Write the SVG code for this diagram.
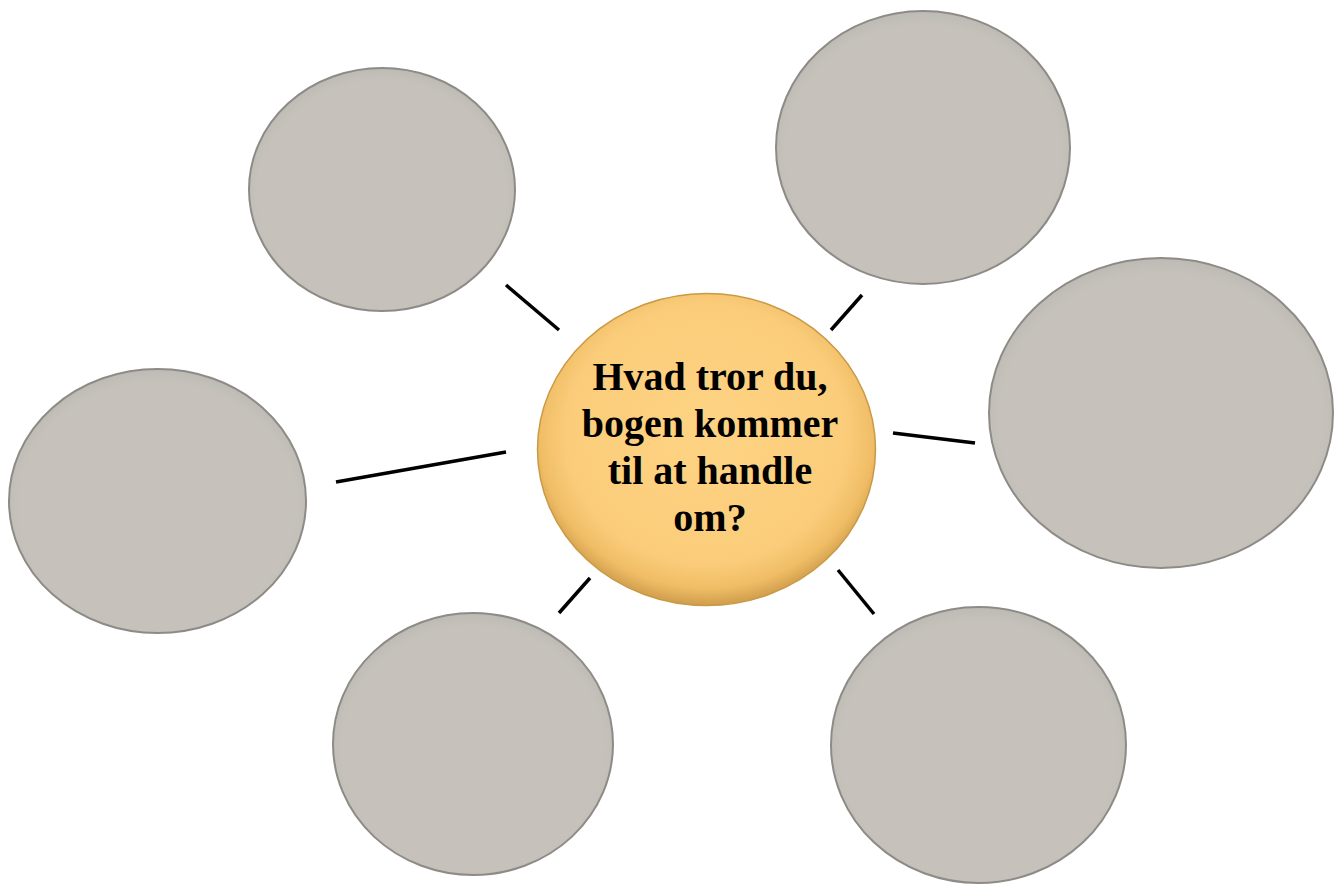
<svg xmlns="http://www.w3.org/2000/svg" width="1337" height="884" viewBox="0 0 1337 884">
<style>
.bub{fill:url(#gray);stroke:#8e8b87;stroke-width:2}
.ctr{fill:url(#gold);stroke:#c99a45;stroke-width:1.5}
.con{stroke:#000;stroke-width:3.5;stroke-linecap:butt}
.lbl{font-family:"Liberation Serif","DejaVu Serif",serif;font-weight:bold;font-size:40px;fill:#000;text-anchor:middle}
</style>
<defs>
<radialGradient id="gray" cx="50%" cy="52%" r="52%">
<stop offset="0" stop-color="#c6c2bb"/>
<stop offset="0.9" stop-color="#c6c2bb"/>
<stop offset="1" stop-color="#bdbab5"/>
</radialGradient>
<radialGradient id="gold" cx="50%" cy="45%" r="55%">
<stop offset="0" stop-color="#fdd383"/>
<stop offset="0.75" stop-color="#fbcd7b"/>
<stop offset="0.9" stop-color="#f0bd66"/>
<stop offset="1" stop-color="#cf9d4c"/>
</radialGradient>
</defs>
<rect width="1337" height="884" fill="#fff"/>
<g id="connectors">
<line class="con" x1="506" y1="285" x2="559" y2="330"/>
<line class="con" x1="831" y1="330" x2="862" y2="295"/>
<line class="con" x1="336" y1="482" x2="506" y2="452"/>
<line class="con" x1="893" y1="433" x2="975" y2="443"/>
<line class="con" x1="559" y1="613" x2="590" y2="578"/>
<line class="con" x1="838" y1="570" x2="874" y2="614"/>
</g>
<g id="node-top-left"><ellipse class="bub" cx="382" cy="189.5" rx="133" ry="121.5"/></g>
<g id="node-top-right"><ellipse class="bub" cx="923" cy="147.5" rx="147" ry="136.5"/></g>
<g id="node-right"><ellipse class="bub" cx="1161" cy="413" rx="172" ry="155"/></g>
<g id="node-left"><ellipse class="bub" cx="157.5" cy="501" rx="148.5" ry="132"/></g>
<g id="node-bottom-left"><ellipse class="bub" cx="473" cy="744" rx="140" ry="131"/></g>
<g id="node-bottom-right"><ellipse class="bub" cx="978.5" cy="745" rx="147.5" ry="138"/></g>
<g id="node-center">
<ellipse class="ctr" cx="706.5" cy="449.5" rx="169" ry="156"/>
<text class="lbl" x="710" y="390">Hvad tror du,</text>
<text class="lbl" x="710" y="437">bogen kommer</text>
<text class="lbl" x="710" y="484">til at handle</text>
<text class="lbl" x="710" y="531">om?</text>
</g>
</svg>
